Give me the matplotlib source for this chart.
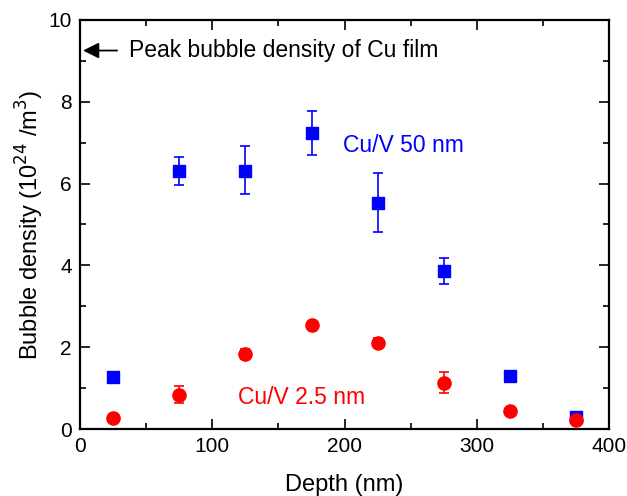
import matplotlib
matplotlib.use('Agg')
import matplotlib.pyplot as plt
from matplotlib.ticker import MultipleLocator

plt.rcParams['font.family'] = ['Liberation Sans', 'DejaVu Sans']

# depth positions (nm)
depth = [25, 75, 125, 175, 225, 275, 325, 375]

# Cu/V 50 nm
thick_vals = [1.27, 6.31, 6.31, 7.24, 5.53, 3.86, 1.30, 0.29]
thick_lo = [0.0, 0.34, 0.57, 0.54, 0.71, 0.31, 0.0, 0.0]
thick_hi = [0.0, 0.33, 0.60, 0.54, 0.72, 0.32, 0.0, 0.0]

# Cu/V 2.5 nm
thin_vals = [0.27, 0.83, 1.83, 2.54, 2.11, 1.13, 0.44, 0.21]
thin_lo = [0.0, 0.20, 0.13, 0.0, 0.11, 0.25, 0.0, 0.0]
thin_hi = [0.0, 0.23, 0.12, 0.0, 0.11, 0.26, 0.0, 0.0]

peak_cu = 9.25

fig = plt.figure(figsize=(6.27, 4.96), dpi=100)
ax = fig.add_axes([0.128, 0.135, 0.843, 0.825])

ax.errorbar(depth, thick_vals, yerr=[thick_lo, thick_hi], fmt='s', color='#0000ff',
            markersize=9.3, capsize=3.5, elinewidth=1.2, capthick=1.2, zorder=3)
ax.errorbar(depth, thin_vals, yerr=[thin_lo, thin_hi], fmt='o', color='#ff0000',
            markersize=9.5, capsize=3.5, elinewidth=1.2, capthick=1.2, zorder=4)

ax.annotate('', xy=(0, peak_cu), xytext=(30, peak_cu),
            arrowprops=dict(arrowstyle='-|>', color='black', lw=1.3, mutation_scale=24))
ax.text(37, peak_cu, 'Peak bubble density of Cu film', fontsize=16.5,
        va='center', ha='left', color='black')
ax.text(199, 6.92, 'Cu/V 50 nm', fontsize=16.5, color='#0000ff', va='center')
ax.text(119, 0.76, 'Cu/V 2.5 nm', fontsize=16.5, color='#ff0000', va='center')

ax.set_xlim(0, 400)
ax.set_ylim(0, 10)
ax.xaxis.set_major_locator(MultipleLocator(100))
ax.xaxis.set_minor_locator(MultipleLocator(50))
ax.yaxis.set_major_locator(MultipleLocator(2))
ax.yaxis.set_minor_locator(MultipleLocator(1))
ax.tick_params(which='both', direction='in', top=True, right=True, labelsize=15, width=1.2)
ax.tick_params(which='major', length=7, pad=6)
ax.tick_params(which='minor', length=4)
for s in ax.spines.values():
    s.set_linewidth(1.6)

ax.set_xlabel('Depth (nm)', fontsize=17, labelpad=13)
ax.set_ylabel('Bubble density (10$^{24}$ /m$^3$)', fontsize=17, labelpad=2)

fig.savefig('out.png', dpi=100)
